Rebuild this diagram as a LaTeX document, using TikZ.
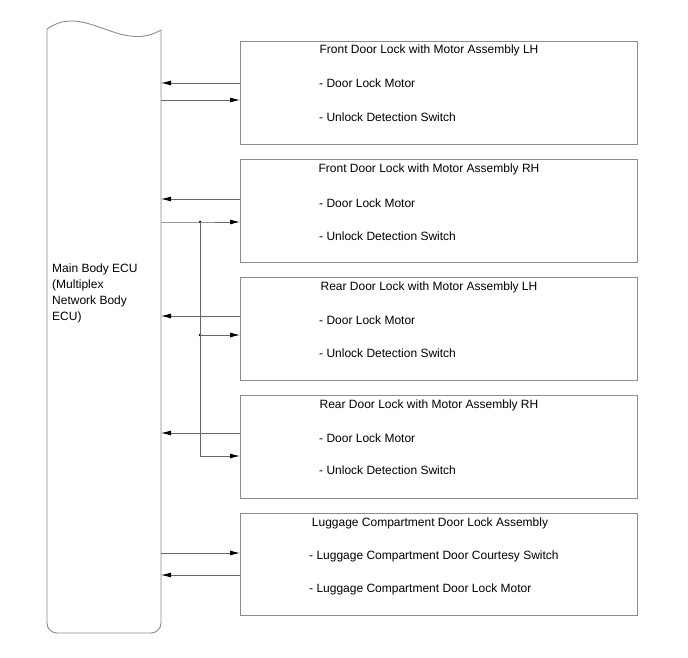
\documentclass[tikz,border=0pt]{standalone}
\usepackage{fontspec}
\setmainfont{Liberation Sans}
\usetikzlibrary{arrows.meta,calc}
\begin{document}
\begin{tikzpicture}[x=1pt,y=-1pt,
  line/.style={draw=black!60, line width=0.9pt},
  boxstyle/.style={draw=black!45, line width=0.9pt, rectangle, minimum width=397pt, minimum height=103pt, inner sep=0pt, anchor=north west},
  lbl/.style={font=\fontsize{12}{14}\selectfont, inner sep=0pt, anchor=base west},
  ttl/.style={font=\fontsize{12}{14}\selectfont, inner sep=0pt, anchor=base},
  arr/.style={line, -{Latex[length=10pt,width=5pt,black,fill=black]}},
  dotstyle/.style={circle, fill=black, inner sep=0pt, minimum size=3pt}
]
\useasboundingbox (0,0) rectangle (688,658);
% ECU outline
\draw[draw=black!45, line width=0.9pt, rounded corners=10pt] (47,29) -- (47,633) -- (161,633) -- (161,30);
\draw[draw=black!45, line width=0.9pt] (161,30) .. controls (120,54) and (85,2) .. (47,29);
\coordinate (ecuR) at (161,330);
\node[lbl, anchor=north west, align=left, font=\fontsize{12}{16}\selectfont] (ecu) at (52,264)
  {Main Body ECU\\(Multiplex\\Network Body\\ECU)};

% boxes
\node[boxstyle] (b1) at (240,41) {};
\node[boxstyle] (b2) at (240,159) {};
\node[boxstyle] (b3) at (240,277) {};
\node[boxstyle] (b4) at (240,395) {};
\node[boxstyle, minimum height=102pt] (b5) at (240,513) {};

% texts
\node[ttl] (t1) at (429,54) {Front Door Lock with Motor Assembly LH};
\node[lbl] (t1a) at (319,88) {- Door Lock Motor};
\node[lbl] (t1b) at (319,122) {- Unlock Detection Switch};

\node[ttl] (t2) at (429,172) {Front Door Lock with Motor Assembly RH};
\node[lbl] (t2a) at (319,207) {- Door Lock Motor};
\node[lbl] (t2b) at (319,240) {- Unlock Detection Switch};

\node[ttl] (t3) at (429,290) {Rear Door Lock with Motor Assembly LH};
\node[lbl] (t3a) at (319,324) {- Door Lock Motor};
\node[lbl] (t3b) at (319,357) {- Unlock Detection Switch};

\node[ttl] (t4) at (429,408) {Rear Door Lock with Motor Assembly RH};
\node[lbl] (t4a) at (319,442) {- Door Lock Motor};
\node[lbl] (t4b) at (319,474) {- Unlock Detection Switch};

\node[ttl] (t5) at (430,526) {Luggage Compartment Door Lock Assembly};
\node[lbl] (t5a) at (309,559) {- Luggage Compartment Door Courtesy Switch};
\node[lbl] (t5b) at (309,592) {- Luggage Compartment Door Lock Motor};

% junction dots
\node[dotstyle] (d1) at (200,222) {};
\node[dotstyle] (d2) at (200,335) {};
\coordinate (c4) at (200,456);

% arrows box -> ECU
\draw[arr] (b1.west |- 0,83) -- (ecuR |- 0,83);
\draw[arr] (b2.west |- 0,199) -- (ecuR |- 0,199);
\draw[arr] (b3.west |- 0,316) -- (ecuR |- 0,316);
\draw[arr] (b4.west |- 0,433) -- (ecuR |- 0,433);
\draw[arr] (b5.west |- 0,575) -- (ecuR |- 0,575);

% arrows ECU -> box
\draw[arr] (ecuR |- 0,100) -- (b1.west |- 0,100);
\draw[arr] (ecuR |- d1) -- (d1.center) -- (b2.west |- d1);
\draw[arr] (d2.center) -- (b3.west |- d2);
\draw[arr] (d1.center) -- (c4) -- (b4.west |- c4);
\draw[arr] (ecuR |- 0,553) -- (b5.west |- 0,553);
\end{tikzpicture}
\end{document}
